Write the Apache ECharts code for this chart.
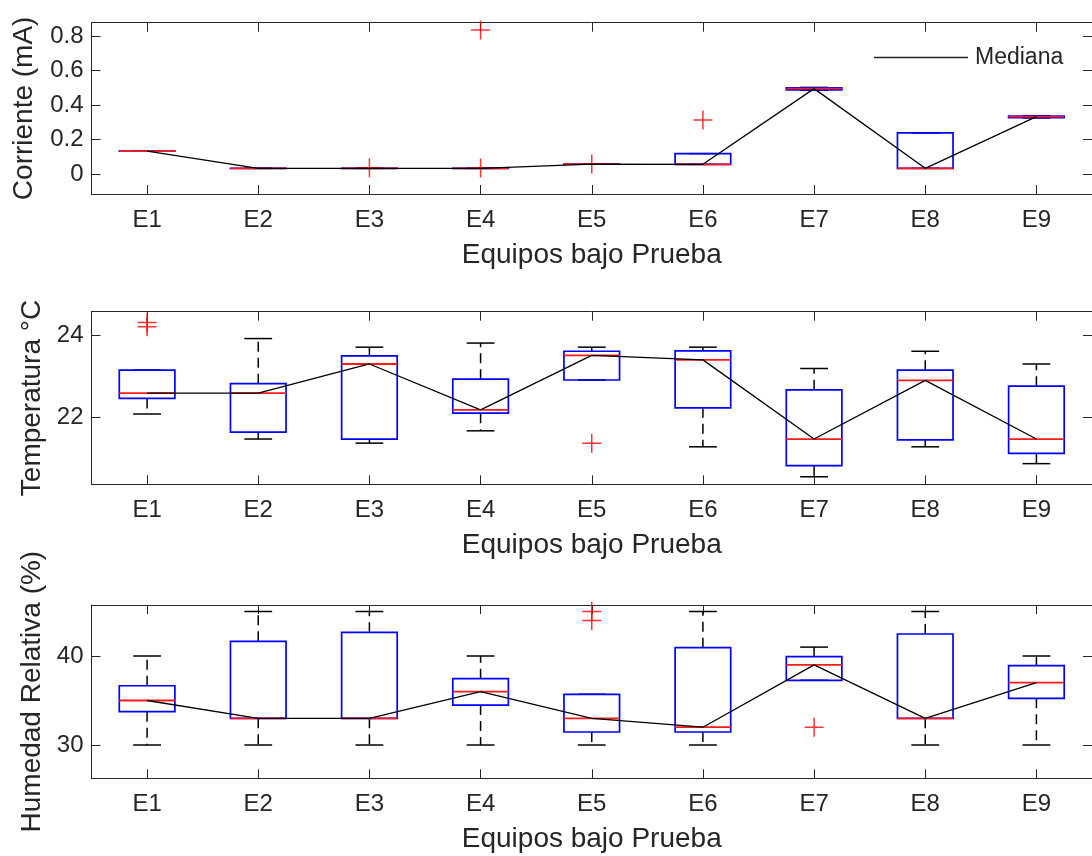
<!DOCTYPE html>
<html>
<head>
<meta charset="utf-8">
<script src="https://cdn.jsdelivr.net/npm/echarts@6/dist/echarts.min.js"></script>
<style>
html,body{margin:0;padding:0;background:#fff;}
#chart{width:1092px;height:856px;}
</style>
</head>
<body>
<div id="chart"></div>
<script>
// ---------- DATA ----------
const categories = ['E1','E2','E3','E4','E5','E6','E7','E8','E9'];

// [min, q1, median, q3, max] per equipment
const corrienteStats = [
  [0.133, 0.133, 0.133, 0.133, 0.133],
  [0.033, 0.033, 0.033, 0.033, 0.033],
  [0.033, 0.033, 0.033, 0.033, 0.033],
  [0.033, 0.033, 0.033, 0.033, 0.033],
  [0.057, 0.057, 0.057, 0.057, 0.057],
  [0.056, 0.056, 0.056, 0.118, 0.118],
  [0.485, 0.488, 0.495, 0.499, 0.502],
  [0.033, 0.033, 0.033, 0.238, 0.238],
  [0.325, 0.327, 0.333, 0.336, 0.338]
];
// [category index, value]
const corrienteOutliers = [[2, 0.036], [3, 0.035], [3, 0.835], [4, 0.058], [5, 0.313]];

const temperaturaStats = [
  [22.09, 22.47, 22.60, 23.16, 23.16],
  [21.48, 21.65, 22.60, 22.83, 23.93],
  [21.38, 21.48, 23.31, 23.51, 23.72],
  [21.68, 22.11, 22.19, 22.94, 23.82],
  [22.92, 22.92, 23.52, 23.62, 23.72],
  [21.29, 22.24, 23.41, 23.63, 23.72],
  [20.56, 20.83, 21.48, 22.68, 23.20],
  [21.29, 21.46, 22.91, 23.16, 23.62],
  [20.88, 21.13, 21.48, 22.77, 23.31]
];
const temperaturaOutliers = [[0, 24.32], [0, 24.22], [4, 21.38]];

const humedadStats = [
  [30, 33.74, 35.0, 36.66, 40],
  [30, 33.0, 33.0, 41.65, 45],
  [30, 33.0, 33.0, 42.66, 45],
  [30, 34.49, 36.0, 37.45, 40],
  [30, 31.46, 33.0, 35.70, 35.70],
  [30, 31.46, 32.0, 40.93, 45],
  [37.27, 37.27, 39.0, 39.93, 41],
  [30, 33.0, 33.0, 42.47, 45],
  [30, 35.25, 37.0, 38.91, 40]
];
const humedadOutliers = [[4, 45], [4, 44], [6, 32]];

const corrienteTicks = [0, 0.2, 0.4, 0.6, 0.8];
const temperaturaTicks = [22, 24];
const humedadTicks = [30, 40];

const yTitles = ['Corriente (mA)', 'Temperatura °C', 'Humedad Relativa (%)'];
const xTitle = 'Equipos bajo Prueba';
const legendName = 'Mediana';

// ---------- CHART ----------
const FONT = "'Liberation Sans', Arial, Helvetica, sans-serif";
const TXT = '#262626';

const panels = [
  {stats: corrienteStats, out: corrienteOutliers, ticks: corrienteTicks, min: -0.116, max: 0.877,
   top: 22.7, height: 171.3, nameGap: 53},
  {stats: temperaturaStats, out: temperaturaOutliers, ticks: temperaturaTicks, min: 20.376, max: 24.585,
   top: 311.7, height: 172.6, nameGap: 43},
  {stats: humedadStats, out: humedadOutliers, ticks: humedadTicks, min: 26.26, max: 45.73,
   top: 605, height: 173.3, nameGap: 43}
];

function renderBox(params, api) {
  const x = api.value(0);
  const pMin = api.coord([x, api.value(1)]);
  const pQ1 = api.coord([x, api.value(2)]);
  const pMed = api.coord([x, api.value(3)]);
  const pQ3 = api.coord([x, api.value(4)]);
  const pMax = api.coord([x, api.value(5)]);
  const band = api.size([1, 0])[0];
  const bw = band * 0.5, cw = band * 0.25;
  const cx = pMed[0];
  const blackSolid = {stroke: '#000', lineWidth: 1.5, fill: null};
  const blackDash = {stroke: '#000', lineWidth: 1.5, fill: null, lineDash: [10, 6]};
  const children = [];
  if (pMax[1] < pQ3[1] - 0.5) {
    children.push({type: 'line', shape: {x1: cx, y1: pQ3[1], x2: cx, y2: pMax[1]}, style: blackDash});
  }
  if (pMin[1] > pQ1[1] + 0.5) {
    children.push({type: 'line', shape: {x1: cx, y1: pQ1[1], x2: cx, y2: pMin[1]}, style: blackDash});
  }
  children.push({type: 'line', shape: {x1: cx - cw / 2, y1: pMax[1], x2: cx + cw / 2, y2: pMax[1]}, style: blackSolid});
  children.push({type: 'line', shape: {x1: cx - cw / 2, y1: pMin[1], x2: cx + cw / 2, y2: pMin[1]}, style: blackSolid});
  children.push({type: 'rect', shape: {x: cx - bw / 2, y: pQ3[1], width: bw, height: Math.max(pQ1[1] - pQ3[1], 0.01)},
    style: {stroke: '#0000ff', lineWidth: 1.7, fill: null}});
  children.push({type: 'line', shape: {x1: cx - bw / 2, y1: pMed[1], x2: cx + bw / 2, y2: pMed[1]},
    style: {stroke: '#ff1a1a', lineWidth: 1.8}});
  return {type: 'group', children: children};
}

const grid = [], xAxis = [], yAxis = [], series = [];
panels.forEach(function (p, i) {
  grid.push({left: 91.5, width: 1010, top: p.top, height: p.height, show: false, containLabel: false});
  const axisLine = {show: true, onZero: false, lineStyle: {color: TXT, width: 1}};
  const tick = {show: true, inside: true, length: 9, alignWithLabel: true, lineStyle: {color: TXT, width: 1}};
  xAxis.push({
    type: 'category', gridIndex: i, data: categories, position: 'bottom', boundaryGap: true,
    axisLine: axisLine, axisTick: tick,
    axisLabel: {color: TXT, fontFamily: FONT, fontSize: 24, margin: 14},
    name: xTitle, nameLocation: 'middle', nameGap: 47,
    nameTextStyle: {color: TXT, fontFamily: FONT, fontSize: 28},
    splitLine: {show: false}
  });
  xAxis.push({
    type: 'category', gridIndex: i, data: categories, position: 'top', boundaryGap: true,
    axisLine: axisLine, axisTick: tick, axisLabel: {show: false}, splitLine: {show: false}
  });
  const ytick = {show: true, inside: true, length: 9, customValues: p.ticks, lineStyle: {color: TXT, width: 1}};
  yAxis.push({
    type: 'value', gridIndex: i, min: p.min, max: p.max, position: 'left',
    axisLine: axisLine, axisTick: ytick,
    axisLabel: {color: TXT, fontFamily: FONT, fontSize: 24, margin: 8, customValues: p.ticks},
    splitLine: {show: false},
    name: yTitles[i], nameLocation: 'middle', nameGap: p.nameGap,
    nameTextStyle: {color: TXT, fontFamily: FONT, fontSize: 28}
  });
  yAxis.push({
    type: 'value', gridIndex: i, min: p.min, max: p.max, position: 'right',
    axisLine: axisLine, axisTick: ytick, axisLabel: {show: false}, splitLine: {show: false}
  });
  series.push({
    type: 'custom', xAxisIndex: 2 * i, yAxisIndex: 2 * i, renderItem: renderBox, z: 2,
    encode: {x: 0, y: [1, 2, 3, 4, 5]},
    data: p.stats.map(function (s, k) { return [k].concat(s); }),
    silent: true
  });
  series.push({
    type: 'scatter', xAxisIndex: 2 * i, yAxisIndex: 2 * i, z: 4,
    symbol: 'path://M10,0L10,20M0,10L20,10', symbolSize: 19,
    itemStyle: {color: 'none', borderColor: '#ff0000', borderWidth: 1.5},
    data: p.out, silent: true
  });
  series.push({
    type: 'line', name: legendName, xAxisIndex: 2 * i, yAxisIndex: 2 * i, z: 5,
    data: p.stats.map(function (s) { return s[2]; }),
    symbol: 'none', showSymbol: false,
    lineStyle: {color: '#000', width: 1.3},
    itemStyle: {color: '#000'},
    silent: true
  });
});

const chart = echarts.init(document.getElementById('chart'), null, {renderer: 'canvas'});
chart.setOption({
  backgroundColor: '#fff',
  animation: false,
  grid: grid,
  xAxis: xAxis,
  yAxis: yAxis,
  legend: {
    data: [{name: legendName, icon: 'rect'}],
    left: 874, top: 46, padding: 0, itemWidth: 94, itemHeight: 1.4, itemGap: 10,
    itemStyle: {color: '#222'},
    textStyle: {color: TXT, fontFamily: FONT, fontSize: 23, padding: [5, 0, 0, 2]},
    selectedMode: false
  },
  series: series
});
</script>
</body>
</html>
